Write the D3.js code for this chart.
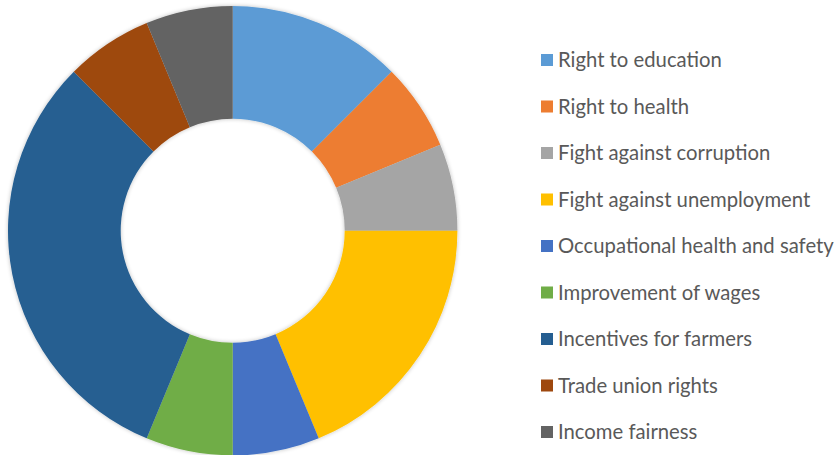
<!DOCTYPE html>
<html><head><meta charset="utf-8">
<script src="https://cdn.jsdelivr.net/npm/d3@7"></script>
<style>body{margin:0;background:#fff}svg{display:block}</style>
</head><body>
<script>
const categories = ["Right to education","Right to health","Fight against corruption","Fight against unemployment","Occupational health and safety","Improvement of wages","Incentives for farmers","Trade union rights","Income fairness"];
const values = [2,1,1,3,1,1,5,1,1];
const colors = ["#5B9BD5","#ED7D31","#A5A5A5","#FFC000","#4472C4","#70AD47","#255E91","#9E480E","#636363"];

const W=840,H=455;
const svg=d3.select("body").append("svg").attr("width",W).attr("height",H);
const defs=svg.append("defs");
const f=defs.append("filter").attr("id","sh").attr("x","-10%").attr("y","-10%").attr("width","120%").attr("height","120%");
f.append("feGaussianBlur").attr("in","SourceAlpha").attr("stdDeviation",2).attr("result","b");
f.append("feComponentTransfer").attr("in","b").attr("result","b2").append("feFuncA").attr("type","linear").attr("slope",0.25);
const m=f.append("feMerge");m.append("feMergeNode").attr("in","b2");m.append("feMergeNode").attr("in","SourceGraphic");

const cx=232.7,cy=230.7,R=224.7,r=112;
const data=categories.map((c,i)=>({c,v:values[i],col:colors[i]}));
const pie=d3.pie().value(d=>d.v).sort(null);
const arc=d3.arc().innerRadius(r).outerRadius(R);
const color=d3.scaleOrdinal().domain(categories).range(colors);
svg.append("g").attr("transform",`translate(${cx},${cy})`).attr("filter","url(#sh)")
  .selectAll("path").data(pie(data)).join("path").attr("d",arc).attr("fill",d=>color(d.data.c));

const y=d3.scalePoint().domain(categories).range([60,432]);
const lg=svg.append("g").selectAll("g").data(categories).join("g").attr("transform",d=>`translate(541,${y(d)})`);
lg.append("rect").attr("x",0).attr("y",-6).attr("width",12).attr("height",12).attr("fill",d=>color(d));
lg.append("text").attr("x",17).attr("y",0).attr("dy","0.35em").attr("font-family","Lato").attr("font-size",20.3).attr("fill","#595959").text(d=>d);
</script>
</body></html>
